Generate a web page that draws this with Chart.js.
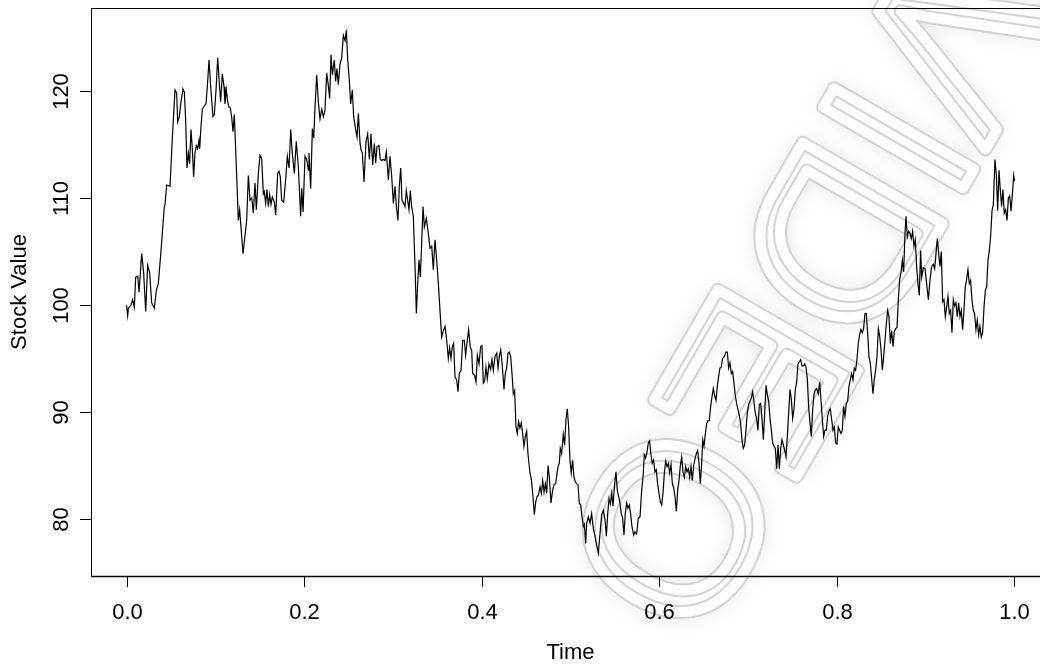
<!DOCTYPE html>
<html>
<head>
<meta charset="utf-8">
<script src="https://cdn.jsdelivr.net/npm/chart.js@4/dist/chart.umd.min.js"></script>
<style>
  html, body { margin: 0; padding: 0; background: #fff; overflow: hidden; }
  #wrap { width: 1060px; height: 664px; }
</style>
</head>
<body>
<div id="wrap"><canvas id="c"></canvas></div>
<script>
// Simulated stock path: time (years) and value
const timeVals = [
  0, 0.0013, 0.0021, 0.0051, 0.0069, 0.0088, 0.0103, 0.0126, 0.0141, 0.0171,
  0.0193, 0.0216, 0.0238, 0.0261, 0.0283, 0.0313, 0.0336, 0.0358, 0.0385, 0.0426,
  0.0434, 0.0452, 0.0490, 0.0516, 0.0546, 0.0565, 0.0576, 0.0595, 0.0610, 0.0636,
  0.0651, 0.0666, 0.0681, 0.0696, 0.0711, 0.0726, 0.0741, 0.0756, 0.0771, 0.0786,
  0.0801, 0.0816, 0.0824, 0.0839, 0.0854, 0.0876, 0.0895, 0.0910, 0.0929, 0.0948,
  0.0974, 0.0989, 0.1008, 0.1027, 0.1045, 0.1060, 0.1079, 0.1098, 0.1109, 0.1124,
  0.1139, 0.1154, 0.1169, 0.1184, 0.1199, 0.1214, 0.1241, 0.1259, 0.1274, 0.1289,
  0.1312, 0.1334, 0.1353, 0.1372, 0.1391, 0.1410, 0.1428, 0.1447, 0.1462, 0.1485,
  0.1503, 0.1522, 0.1541, 0.1552, 0.1567, 0.1582, 0.1597, 0.1612, 0.1627, 0.1642,
  0.1665, 0.1680, 0.1702, 0.1717, 0.1732, 0.1747, 0.1770, 0.1792, 0.1811, 0.1830,
  0.1849, 0.1867, 0.1890, 0.1912, 0.1935, 0.1961, 0.1973, 0.1988, 0.2010, 0.2029,
  0.2048, 0.2055, 0.2074, 0.2093, 0.2108, 0.2123, 0.2142, 0.2160, 0.2179, 0.2198,
  0.2217, 0.2235, 0.2254, 0.2273, 0.2288, 0.2303, 0.2318, 0.2340, 0.2355, 0.2370,
  0.2385, 0.2404, 0.2423, 0.2442, 0.2461, 0.2476, 0.2491, 0.2509, 0.2524, 0.2543,
  0.2558, 0.2581, 0.2596, 0.2611, 0.2630, 0.2641, 0.2656, 0.2675, 0.2697, 0.2716,
  0.2735, 0.2753, 0.2772, 0.2791, 0.2806, 0.2821, 0.2843, 0.2858, 0.2873, 0.2892,
  0.2911, 0.2926, 0.2949, 0.2967, 0.2986, 0.3005, 0.3024, 0.3039, 0.3057, 0.3072,
  0.3088, 0.3102, 0.3121, 0.3136, 0.3151, 0.3166, 0.3181, 0.3196, 0.3211, 0.3230,
  0.3249, 0.3264, 0.3279, 0.3294, 0.3309, 0.3324, 0.3339, 0.3354, 0.3376, 0.3399,
  0.3418, 0.3437, 0.3455, 0.3474, 0.3493, 0.3512, 0.3530, 0.3549, 0.3568, 0.3587,
  0.3606, 0.3624, 0.3639, 0.3654, 0.3669, 0.3684, 0.3699, 0.3718, 0.3733, 0.3748,
  0.3767, 0.3786, 0.3804, 0.3819, 0.3838, 0.3853, 0.3872, 0.3887, 0.3898, 0.3921,
  0.3936, 0.3951, 0.3970, 0.3988, 0.4003, 0.4018, 0.4033, 0.4048, 0.4063, 0.4082,
  0.4101, 0.4116, 0.4131, 0.4150, 0.4169, 0.4184, 0.4199, 0.4214, 0.4229, 0.4251,
  0.4266, 0.4281, 0.4296, 0.4311, 0.4326, 0.4341, 0.4356, 0.4371, 0.4386, 0.4401,
  0.4416, 0.4431, 0.4446, 0.4461, 0.4476, 0.4491, 0.4506, 0.4521, 0.4544, 0.4559,
  0.4574, 0.4593, 0.4608, 0.4623, 0.4638, 0.4657, 0.4672, 0.4687, 0.4702, 0.4717,
  0.4732, 0.4747, 0.4762, 0.4780, 0.4799, 0.4814, 0.4833, 0.4844, 0.4859, 0.4874,
  0.4885, 0.4900, 0.4919, 0.4934, 0.4949, 0.4964, 0.4979, 0.4994, 0.5009, 0.5024,
  0.5039, 0.5054, 0.5069, 0.5084, 0.5099, 0.5115, 0.5130, 0.5145, 0.5156, 0.5171,
  0.5182, 0.5201, 0.5220, 0.5238, 0.5257, 0.5276, 0.5295, 0.5313, 0.5332, 0.5351,
  0.5370, 0.5389, 0.5404, 0.5419, 0.5434, 0.5449, 0.5464, 0.5479, 0.5494, 0.5512,
  0.5527, 0.5542, 0.5557, 0.5572, 0.5587, 0.5602, 0.5617, 0.5632, 0.5647, 0.5662,
  0.5677, 0.5692, 0.5711, 0.5726, 0.5745, 0.5764, 0.5783, 0.5801, 0.5820, 0.5831,
  0.5846, 0.5861, 0.5876, 0.5891, 0.5906, 0.5921, 0.5936, 0.5951, 0.5966, 0.5981,
  0.5997, 0.6012, 0.6027, 0.6042, 0.6057, 0.6072, 0.6087, 0.6102, 0.6117, 0.6132,
  0.6147, 0.6162, 0.6177, 0.6192, 0.6207, 0.6222, 0.6237, 0.6252, 0.6267, 0.6282,
  0.6297, 0.6312, 0.6327, 0.6342, 0.6357, 0.6372, 0.6387, 0.6402, 0.6417, 0.6432,
  0.6447, 0.6462, 0.6477, 0.6489, 0.6503, 0.6515, 0.6533, 0.6548, 0.6563, 0.6578,
  0.6593, 0.6608, 0.6627, 0.6639, 0.6653, 0.6668, 0.6683, 0.6698, 0.6713, 0.6732,
  0.6751, 0.6766, 0.6781, 0.6796, 0.6811, 0.6826, 0.6841, 0.6856, 0.6871, 0.6886,
  0.6901, 0.6916, 0.6931, 0.6946, 0.6961, 0.6976, 0.6991, 0.7006, 0.7021, 0.7036,
  0.7051, 0.7066, 0.7081, 0.7096, 0.7111, 0.7126, 0.7141, 0.7157, 0.7172, 0.7187,
  0.7202, 0.7217, 0.7232, 0.7247, 0.7262, 0.7277, 0.7292, 0.7307, 0.7322, 0.7337,
  0.7352, 0.7367, 0.7382, 0.7397, 0.7412, 0.7427, 0.7442, 0.7457, 0.7472, 0.7487,
  0.7502, 0.7517, 0.7532, 0.7547, 0.7562, 0.7577, 0.7592, 0.7607, 0.7622, 0.7637,
  0.7652, 0.7667, 0.7682, 0.7697, 0.7712, 0.7727, 0.7742, 0.7757, 0.7772, 0.7791,
  0.7806, 0.7821, 0.7836, 0.7851, 0.7866, 0.7881, 0.7896, 0.7911, 0.7926, 0.7941,
  0.7956, 0.7971, 0.7986, 0.8001, 0.8016, 0.8031, 0.8046, 0.8061, 0.8076, 0.8091,
  0.8106, 0.8121, 0.8136, 0.8151, 0.8166, 0.8181, 0.8196, 0.8211, 0.8226, 0.8241,
  0.8256, 0.8271, 0.8286, 0.8301, 0.8316, 0.8331, 0.8346, 0.8361, 0.8376, 0.8391,
  0.8406, 0.8421, 0.8436, 0.8452, 0.8467, 0.8482, 0.8497, 0.8512, 0.8527, 0.8542,
  0.8557, 0.8572, 0.8587, 0.8602, 0.8617, 0.8632, 0.8647, 0.8662, 0.8677, 0.8692,
  0.8707, 0.8722, 0.8737, 0.8752, 0.8767, 0.8778, 0.8793, 0.8808, 0.8823, 0.8838,
  0.8853, 0.8868, 0.8883, 0.8898, 0.8913, 0.8928, 0.8943, 0.8955, 0.8973, 0.8992,
  0.9011, 0.9030, 0.9048, 0.9067, 0.9086, 0.9101, 0.9116, 0.9131, 0.9146, 0.9161,
  0.9176, 0.9191, 0.9206, 0.9221, 0.9236, 0.9251, 0.9266, 0.9281, 0.9296, 0.9311,
  0.9326, 0.9341, 0.9356, 0.9371, 0.9386, 0.9401, 0.9416, 0.9431, 0.9446, 0.9459,
  0.9476, 0.9491, 0.9506, 0.9521, 0.9536, 0.9551, 0.9566, 0.9581, 0.9596, 0.9611,
  0.9626, 0.9641, 0.9657, 0.9672, 0.9687, 0.9702, 0.9717, 0.9732, 0.9747, 0.9762,
  0.9780, 0.9796, 0.9811, 0.9826, 0.9840, 0.9855, 0.9870, 0.9885, 0.9900, 0.9916,
  0.9931, 0.9946, 0.9961, 0.9976, 0.9991, 1.0
];

const stockVals = [
  100.0, 99.0, 99.7, 100.0, 100.5, 99.8, 102.6, 102.7, 101.2, 104.8,
  103.0, 99.4, 103.7, 103.0, 100.2, 99.7, 101.4, 102.0, 104.7, 109.2,
  109.4, 111.2, 111.1, 115.6, 120.1, 119.8, 117.1, 117.6, 118.8, 120.2,
  119.9, 117.3, 112.8, 114.2, 113.2, 116.4, 114.6, 112.0, 114.2, 114.9,
  114.6, 115.4, 114.6, 116.7, 118.3, 118.6, 118.8, 120.4, 122.9, 120.4,
  117.6, 117.8, 120.1, 123.1, 120.7, 119.0, 121.6, 120.4, 118.8, 120.1,
  119.0, 118.5, 118.4, 117.6, 116.2, 117.8, 112.0, 107.9, 108.9, 107.3,
  104.8, 106.5, 107.9, 112.1, 109.8, 110.0, 108.6, 111.4, 108.9, 112.3,
  114.0, 113.7, 110.4, 110.6, 109.5, 110.8, 109.2, 110.3, 109.4, 110.1,
  109.6, 108.4, 112.3, 112.5, 112.0, 109.8, 109.6, 111.7, 113.9, 112.8,
  116.4, 114.2, 112.3, 115.3, 112.9, 108.3, 110.9, 108.7, 113.9, 113.6,
  112.6, 114.2, 110.9, 116.5, 115.6, 118.5, 121.5, 119.0, 117.4, 118.3,
  117.6, 118.2, 121.7, 120.5, 119.3, 123.4, 121.5, 122.9, 120.9, 122.1,
  120.6, 122.5, 123.1, 125.2, 124.7, 125.7, 122.9, 121.0, 118.8, 120.1,
  117.6, 116.4, 115.7, 117.9, 115.1, 114.5, 114.2, 111.5, 115.3, 116.0,
  113.6, 116.0, 113.1, 115.1, 113.3, 114.8, 114.9, 113.6, 113.5, 113.6,
  113.5, 114.3, 111.7, 113.9, 112.1, 109.5, 111.1, 109.2, 107.9, 111.1,
  112.8, 109.8, 109.5, 109.2, 110.7, 109.8, 108.9, 110.7, 109.2, 108.3,
  103.6, 99.2, 102.0, 104.2, 102.6, 105.8, 109.2, 107.3, 108.1, 106.7,
  105.3, 105.5, 103.3, 106.1, 104.2, 102.0, 99.5, 97.0, 97.6, 98.0,
  96.7, 95.0, 96.0, 95.0, 96.1, 96.4, 93.3, 93.0, 91.9, 93.6,
  93.9, 96.7, 96.7, 95.3, 96.7, 97.7, 96.0, 95.8, 93.6, 93.4,
  92.8, 95.3, 94.5, 96.1, 96.2, 92.7, 92.9, 94.2, 93.1, 94.5,
  94.0, 94.9, 93.9, 95.2, 95.5, 94.1, 95.2, 95.8, 94.6, 92.1,
  93.6, 94.1, 95.5, 95.6, 95.2, 93.6, 91.7, 92.0, 88.6, 88.0,
  89.1, 88.5, 89.0, 88.0, 86.8, 87.7, 88.2, 86.1, 84.3, 83.7,
  82.4, 80.4, 81.6, 82.1, 82.2, 83.0, 82.4, 83.6, 82.5, 83.3,
  82.4, 85.0, 83.9, 81.5, 82.7, 83.2, 83.3, 84.0, 84.9, 85.2,
  86.6, 86.1, 87.9, 86.9, 89.3, 90.3, 88.6, 85.5, 84.3, 85.5,
  83.9, 83.5, 83.3, 83.2, 81.5, 81.3, 80.2, 79.3, 79.5, 77.7,
  79.6, 80.2, 79.6, 80.5, 79.1, 78.4, 77.5, 76.8, 78.6, 80.4,
  80.8, 79.9, 78.4, 80.5, 81.9, 81.4, 82.4, 81.2, 83.0, 84.4,
  82.7, 82.1, 81.5, 80.5, 80.1, 78.5, 80.5, 81.5, 81.0, 81.3,
  80.5, 79.3, 78.5, 78.8, 78.6, 80.1, 80.2, 82.6, 84.3, 86.0,
  85.7, 86.2, 87.1, 87.3, 86.0, 85.2, 85.5, 84.4, 84.6, 83.3,
  82.4, 81.6, 81.3, 82.4, 84.3, 85.4, 84.9, 85.2, 84.3, 85.1,
  83.3, 82.9, 82.1, 80.7, 82.7, 83.6, 85.0, 85.8, 84.4, 83.9,
  84.9, 84.4, 84.7, 83.9, 84.9, 83.6, 85.0, 85.6, 86.1, 86.4,
  85.2, 83.3, 85.2, 87.4, 86.8, 87.7, 88.9, 89.2, 89.2, 90.5,
  91.4, 92.2, 91.4, 91.1, 92.4, 93.3, 94.1, 94.2, 95.0, 95.2,
  95.6, 95.6, 94.1, 94.6, 93.6, 93.8, 92.7, 91.5, 90.8, 90.2,
  89.7, 88.9, 87.4, 86.6, 86.9, 88.3, 89.9, 90.7, 91.0, 91.3,
  91.9, 91.0, 89.9, 89.4, 88.3, 90.7, 90.8, 89.3, 87.4, 89.9,
  92.5, 91.6, 91.0, 89.4, 88.3, 87.1, 86.8, 86.6, 84.7, 86.9,
  84.7, 86.6, 87.4, 86.9, 86.4, 85.8, 87.7, 89.9, 92.1, 91.2,
  89.4, 90.3, 92.1, 92.8, 94.5, 94.7, 94.9, 94.3, 94.3, 94.5,
  94.2, 93.1, 90.5, 89.0, 87.7, 90.2, 91.6, 92.1, 92.2, 91.7,
  92.8, 91.1, 89.3, 87.7, 88.3, 88.3, 89.6, 90.1, 90.3, 89.3,
  88.3, 88.6, 87.1, 87.0, 88.6, 88.3, 88.0, 88.3, 90.5, 89.6,
  90.8, 91.0, 92.4, 93.0, 93.6, 93.0, 94.1, 93.9, 94.9, 96.4,
  97.2, 97.7, 97.4, 97.8, 99.2, 99.2, 97.4, 95.2, 94.6, 93.2,
  91.7, 93.0, 93.9, 95.2, 97.8, 97.1, 95.8, 93.9, 95.2, 96.7,
  98.3, 99.5, 98.9, 96.4, 97.6, 96.1, 97.5, 97.8, 97.9, 100.5,
  102.4, 103.0, 104.2, 103.1, 106.7, 108.3, 106.4, 106.9, 106.7, 106.2,
  106.9, 105.5, 106.1, 103.6, 102.0, 100.9, 105.1, 102.6, 103.5, 103.4,
  102.0, 100.5, 102.3, 103.6, 103.8, 103.4, 104.8, 106.2, 104.8, 103.6,
  105.0, 100.3, 100.5, 98.9, 99.8, 100.8, 99.2, 99.5, 97.4, 100.5,
  99.9, 100.2, 98.9, 100.2, 98.9, 99.5, 97.7, 99.5, 101.7, 102.3,
  103.3, 102.0, 102.3, 100.5, 99.5, 99.2, 97.7, 98.6, 97.2, 98.0,
  97.0, 97.4, 99.8, 101.4, 101.7, 104.2, 105.1, 106.5, 108.8, 109.4,
  113.6, 112.1, 108.8, 112.6, 110.8, 109.2, 110.8, 108.6, 108.9, 107.9,
  110.0, 110.2, 108.8, 110.3, 112.1, 111.6
];

// Axis tick positions and labels
const xTickVals = [0.0, 0.2, 0.4, 0.6, 0.8, 1.0];
const xTickLabels = ['0.0', '0.2', '0.4', '0.6', '0.8', '1.0'];
const yTickVals = [80, 90, 100, 110, 120];
const yTickLabels = ['80', '90', '100', '110', '120'];
const xTitle = 'Time';
const yTitle = 'Stock Value';
const markText = 'VIDEO';

const FONT = '"Liberation Sans", Arial, Helvetica, sans-serif';

// Light outlined diagonal mark behind the plot
const markPlugin = {
  id: 'mark',
  beforeDraw(chart) {
    const ctx = chart.ctx;
    ctx.save();
    ctx.fillStyle = '#fff';
    ctx.fillRect(0, 0, chart.width, chart.height);
    const size = 235;
    ctx.font = size + 'px ' + FONT;
    const ang = 2 * Math.PI / 3;
    const dx = Math.cos(ang), dy = Math.sin(ang);
    // centre of the "D" sits at a fixed spot; text runs toward the lower left
    const pre = ctx.measureText(markText.slice(0, 2)).width + ctx.measureText('D').width / 2;
    const cx = 826 - dx * pre, cy = 232 - dy * pre;
    ctx.translate(cx, cy);
    ctx.rotate(ang);
    ctx.textAlign = 'left';
    ctx.textBaseline = 'middle';
    ctx.lineJoin = 'round';
    // soft grey haze around the letters
    ctx.shadowColor = 'rgba(0,0,0,0.16)';
    ctx.shadowBlur = 26;
    ctx.fillStyle = '#fff';
    ctx.fillText(markText, 0, 0);
    ctx.shadowBlur = 0;
    ctx.shadowColor = 'transparent';
    // double outline
    ctx.strokeStyle = '#d2d2d2';
    ctx.lineWidth = 14;
    ctx.strokeText(markText, 0, 0);
    ctx.strokeStyle = '#ffffff';
    ctx.lineWidth = 10;
    ctx.strokeText(markText, 0, 0);
    ctx.restore();
  }
};

// Box, ticks and labels in the base-graphics style
const framePlugin = {
  id: 'frame',
  afterDraw(chart) {
    const ctx = chart.ctx;
    const a = chart.chartArea;
    const xs = chart.scales.x, ys = chart.scales.y;
    ctx.save();
    ctx.strokeStyle = '#000';
    ctx.lineWidth = 1;
    ctx.strokeRect(Math.round(a.left) + 0.5, Math.round(a.top) + 0.5,
                   Math.round(a.right - a.left), Math.round(a.bottom - a.top));
    // x axis line sits on the box bottom
    ctx.lineWidth = 1.6;
    ctx.beginPath();
    ctx.moveTo(a.left, Math.round(a.bottom) + 0.5);
    ctx.lineTo(a.right, Math.round(a.bottom) + 0.5);
    ctx.stroke();
    ctx.lineWidth = 1;
    ctx.fillStyle = '#000';
    ctx.font = '22px ' + FONT;
    ctx.textAlign = 'center';
    ctx.textBaseline = 'middle';
    xTickVals.forEach((v, i) => {
      const px = Math.round(xs.getPixelForValue(v)) + 0.5;
      ctx.beginPath();
      ctx.moveTo(px, a.bottom);
      ctx.lineTo(px, a.bottom + 11);
      ctx.stroke();
      ctx.fillText(xTickLabels[i], px, a.bottom + 37);
    });
    yTickVals.forEach((v, i) => {
      const py = Math.round(ys.getPixelForValue(v)) + 0.5;
      ctx.beginPath();
      ctx.moveTo(a.left, py);
      ctx.lineTo(a.left - 11, py);
      ctx.stroke();
      ctx.save();
      ctx.translate(a.left - 29, py);
      ctx.rotate(-Math.PI / 2);
      ctx.fillText(yTickLabels[i], 0, 0);
      ctx.restore();
    });
    ctx.fillText(xTitle, (a.left + a.right) / 2, a.bottom + 77);
    ctx.save();
    ctx.translate(20, (a.top + a.bottom) / 2);
    ctx.rotate(-Math.PI / 2);
    ctx.fillText(yTitle, 0, 0);
    ctx.restore();
    ctx.restore();
  }
};

const points = timeVals.map((t, i) => ({ x: t, y: stockVals[i] }));

new Chart(document.getElementById('c'), {
  type: 'line',
  data: {
    datasets: [{
      data: points,
      borderColor: '#000',
      borderWidth: 1.2,
      pointRadius: 0,
      tension: 0,
      fill: false
    }]
  },
  options: {
    responsive: true,
    maintainAspectRatio: false,
    animation: false,
    layout: { padding: { left: 91, top: 8, right: 10, bottom: 88 } },
    plugins: { legend: { display: false }, tooltip: { enabled: false } },
    scales: {
      x: { type: 'linear', min: -0.04, max: 1.04, display: false },
      y: { type: 'linear', min: 74.67, max: 127.76, display: false }
    }
  },
  plugins: [markPlugin, framePlugin]
});
</script>
</body>
</html>
